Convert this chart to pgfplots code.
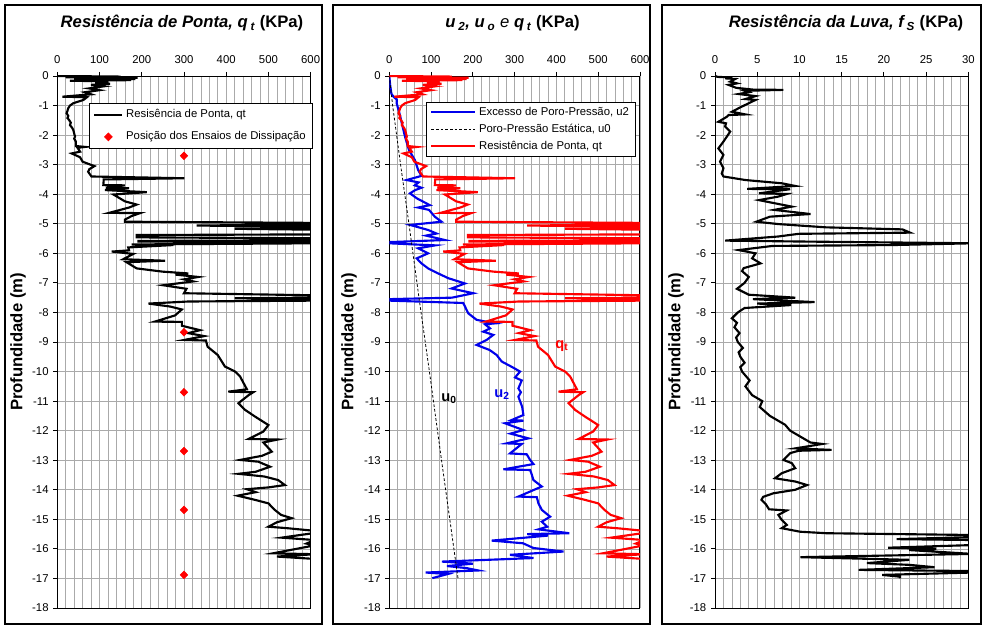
\documentclass[border=0pt]{standalone}
\usepackage{fontspec}
\setmainfont{Liberation Sans}
\usepackage{pgfplots}
\pgfplotsset{compat=1.18}
\usepackage{pgfplotstable}

\definecolor{gridc}{RGB}{170,170,170}
\definecolor{myblue}{RGB}{0,0,235}
\definecolor{myred}{RGB}{255,0,0}

% Resistencia de ponta qt (kPa) vs profundidade (m)
\pgfplotstableread{
x y
0 0
150 -0.02
20 -0.04
190 -0.06
40 -0.08
185 -0.10
60 -0.12
175 -0.14
30 -0.16
120 -0.18
90 -0.22
125 -0.26
80 -0.30
110 -0.35
75 -0.42
100 -0.48
65 -0.55
80 -0.62
12 -0.70
70 -0.72
62 -0.81
38 -0.92
30 -1.00
26 -1.09
24 -1.18
22 -1.26
26 -1.35
24 -1.42
28 -1.49
32 -1.58
30 -1.66
35 -1.75
38 -1.83
40 -1.95
42 -2.05
40 -2.12
44 -2.22
44 -2.37
66 -2.40
48 -2.43
54 -2.56
34 -2.62
54 -2.75
60 -2.90
88 -3.05
76 -3.15
73 -3.24
81 -3.40
301 -3.46
110 -3.50
109 -3.69
160 -3.70
115 -3.78
170 -3.80
113 -3.86
212 -3.93
133 -4.01
160 -4.24
188 -4.35
170 -4.45
123 -4.63
196 -4.64
176 -4.74
160 -4.86
160 -4.93
610 -4.97
610 -5.02
330 -5.06
610 -5.10
610 -5.15
420 -5.17
610 -5.20
610 -5.36
188 -5.38
188 -5.46
610 -5.49
610 -5.56
192 -5.58
192 -5.60
610 -5.63
610 -5.66
176 -5.70
275 -5.72
168 -5.80
170 -5.90
129 -5.94
180 -6.02
156 -6.20
255 -6.25
164 -6.30
188 -6.51
250 -6.62
310 -6.68
280 -6.72
334 -6.80
300 -6.88
322 -6.95
251 -7.08
306 -7.20
300 -7.35
610 -7.42
610 -7.50
420 -7.52
610 -7.56
610 -7.60
310 -7.63
216 -7.70
267 -7.80
295 -7.90
279 -8.10
231 -8.31
295 -8.32
295 -8.45
338 -8.60
310 -8.70
348 -8.80
301 -8.93
352 -8.95
356 -9.16
380 -9.44
397 -9.83
421 -10.00
433 -10.17
449 -10.60
405 -10.68
464 -10.70
453 -10.80
429 -11.07
445 -11.30
468 -11.52
500 -11.81
488 -12.03
453 -12.28
522 -12.30
488 -12.40
508 -12.71
485 -12.85
433 -12.99
476 -13.05
504 -13.22
470 -13.39
429 -13.46
490 -13.55
523 -13.67
539 -13.84
500 -13.92
449 -13.98
470 -14.08
427 -14.20
468 -14.34
500 -14.46
515 -14.68
530 -14.85
555 -14.96
520 -15.10
500 -15.25
545 -15.30
610 -15.39
610 -15.46
531 -15.62
610 -15.70
590 -15.82
610 -15.88
511 -16.15
610 -16.18
520 -16.26
610 -16.34
}\qtdata

% Excesso de poro-pressao u2 (kPa)
\pgfplotstableread{
x y
0 0
2 -0.30
5 -0.60
10 -0.70
18 -0.80
17.6 -0.92
25 -1.30
30 -1.60
37.6 -2.05
47 -2.50
61 -2.84
69 -3.18
77 -3.38
41.5 -3.52
70 -3.60
61 -3.70
77 -3.78
62 -3.86
49.5 -3.97
66 -4.14
97 -4.37
69 -4.45
95 -4.53
109 -4.76
125 -4.93
50 -5.04
93 -5.21
113 -5.33
88 -5.40
133 -5.55
0 -5.62
0 -5.66
60 -5.70
110 -5.73
69 -5.83
93 -6.00
65.5 -6.17
77 -6.34
93 -6.51
117 -6.68
141 -6.84
181 -7.02
149 -7.19
201 -7.35
150 -7.50
0 -7.55
0 -7.60
177 -7.68
189 -8.03
209 -8.25
253 -8.37
229 -8.40
241 -8.54
225 -8.65
249 -8.76
233 -8.93
209 -9.10
240 -9.27
257 -9.44
269 -9.66
293 -9.84
313 -10.00
301 -10.20
317 -10.30
309 -10.57
315 -10.70
309 -10.85
318 -11.19
321 -11.47
293 -11.64
321 -11.66
277 -11.75
321 -11.98
290 -12.10
333 -12.26
281 -12.43
317 -12.45
289 -12.77
329 -12.80
337 -12.99
345 -13.13
273 -13.31
337 -13.33
340 -13.44
345 -13.67
365 -13.89
337 -14.06
309 -14.23
353 -14.25
357 -14.46
365 -14.68
385 -14.91
365 -15.08
378 -15.25
357 -15.34
431 -15.47
330 -15.50
380 -15.55
245 -15.72
320 -15.81
345 -15.97
417 -16.09
289 -16.20
345 -16.31
126 -16.43
200 -16.50
138 -16.58
185 -16.65
213 -16.73
87 -16.80
140 -16.85
103 -16.99
}\utwodata

% Poro-pressao estatica u0 (kPa)
\pgfplotstableread{
x y
0 0
8 -1
27 -3
47 -5
72 -7.6
96 -10
125 -13
165 -17.05
}\uzerodata

% Resistencia da luva fs (kPa)
\pgfplotstableread{
x y
0 0
0.3 -0.03
2.0 -0.05
1.2 -0.08
2.4 -0.10
1.8 -0.19
2.6 -0.25
1.6 -0.30
2.5 -0.40
4.5 -0.46
8.1 -0.47
3.5 -0.50
4.0 -0.55
2.8 -0.61
4.8 -0.68
3.6 -0.78
4.8 -0.81
4.0 -0.92
2.8 -1.09
2.0 -1.21
3.6 -1.30
1.6 -1.32
1.4 -1.38
0.4 -1.55
1.3 -1.60
1.2 -1.71
1.8 -1.88
1.4 -2.05
1.0 -2.22
0.4 -2.45
1.0 -2.67
0.6 -2.90
1.0 -3.12
0.8 -3.30
1.0 -3.40
3.6 -3.52
7.9 -3.63
9.5 -3.72
3.8 -3.82
8.9 -3.83
5.2 -3.97
8.5 -3.99
7.5 -4.08
5.2 -4.20
9.1 -4.42
7.0 -4.53
11.3 -4.67
6.5 -4.76
4.9 -4.93
7.5 -5.01
13.1 -5.12
22.2 -5.19
23.1 -5.30
9.9 -5.34
7.5 -5.43
1.2 -5.57
10 -5.60
30.5 -5.66
21 -5.72
6.8 -5.75
2.8 -5.89
4.8 -6.00
4.4 -6.17
5.4 -6.34
3.4 -6.50
3.2 -6.60
4.0 -6.80
3.5 -7.00
2.6 -7.20
4.0 -7.40
9.5 -7.50
4.5 -7.55
11.8 -7.65
5.0 -7.70
9.0 -7.75
3.5 -7.85
2.7 -8.00
2.0 -8.20
2.6 -8.35
2.3 -8.50
2.9 -8.70
2.5 -8.85
2.7 -9.00
3.3 -9.20
2.8 -9.35
3.0 -9.50
3.5 -9.70
3.0 -9.85
3.2 -10.00
4.1 -10.30
3.6 -10.50
4.4 -10.80
5.6 -11.00
5.3 -11.20
6.5 -11.50
8.3 -11.80
8.9 -12.00
10.1 -12.20
11.3 -12.40
12.7 -12.45
9.5 -12.60
13.8 -12.65
9.9 -12.68
8.9 -12.76
8.1 -12.99
9.1 -13.10
9.5 -13.27
7.9 -13.44
7.1 -13.61
9.5 -13.72
10.9 -13.84
9.5 -14.00
6.9 -14.12
5.7 -14.24
5.5 -14.34
6.0 -14.48
6.4 -14.66
8.5 -14.70
7.5 -14.85
7.9 -15.02
8.5 -15.19
7.9 -15.30
10.1 -15.42
13.2 -15.47
30.5 -15.53
30.5 -15.60
21.5 -15.67
30.5 -15.70
30.5 -15.87
20.5 -15.96
26.2 -16.00
23 -16.04
30.5 -16.17
10.1 -16.28
23 -16.37
18 -16.48
23 -16.54
26 -16.62
17.0 -16.71
30.5 -16.75
30.5 -16.80
19.8 -16.88
21.9 -16.94
21.9 -17.00
}\fsdata

\pgfplotsset{
  myaxis/.style={
    scale only axis,
    height=399pt,
    ymin=-18, ymax=0,
    ytick={-18,-17,...,0},
    axis line style={black, line width=0.7pt},
    tick style={black, line width=0.6pt},
    major tick length=3pt,
    minor tick length=0pt,
    tick align=outside,
    xtick pos=upper,
    xticklabel pos=upper,
    ytick pos=left,
    grid style={gridc, line width=0.5pt},
    minor grid style={gridc, line width=0.5pt},
    xmajorgrids, xminorgrids, ymajorgrids,
    /pgf/number format/assume math mode=true,
    ticklabel style={font=\fontsize{8.5}{10}\selectfont},
    xticklabel style={yshift=3pt},
    legend cell align=left,
  },
}

\begin{document}
\begin{tikzpicture}
\path[use as bounding box] (0pt,0pt) rectangle (738.75pt,-472.5pt);
\fill[white] (0pt,0pt) rectangle (738.75pt,-472.5pt);

% ---------- Panel 1 ----------
\begin{axis}[myaxis,
  at={(42.975pt,-456pt)}, anchor=south west, width=190pt,
  xmin=0, xmax=600, xtick={0,100,...,600}, minor x tick num=4,
  legend image code/.code={\draw[mark repeat=2,mark phase=2,#1] plot coordinates {(0pt,0pt) (10.5pt,0pt) (21pt,0pt)};},
  legend style={at={(0.125,0.949)}, anchor=north west, draw=black, line width=0.6pt,
    fill=white, font=\fontsize{8.5}{10}\selectfont, row sep=5pt, inner xsep=3pt, inner ysep=2.5pt},
]
\addplot[black, line width=1.6pt] table {\qtdata};
\addlegendentry{Resisência de Ponta, qt}
\addplot[only marks, mark=diamond*, mark size=2.9pt, color=red, mark options={fill=red, xscale=1.3}] coordinates {
(300,-2.70) (300,-8.67) (300,-10.70) (300,-12.69) (300,-14.68) (300,-16.88)};
\addlegendentry{Posição dos Ensaios de Dissipação}
\end{axis}

% ---------- Panel 2 ----------
\begin{axis}[myaxis,
  at={(291.975pt,-456pt)}, anchor=south west, width=188pt,
  xmin=0, xmax=600, xtick={0,100,...,600}, minor x tick num=4,
  legend image code/.code={\draw[mark repeat=2,mark phase=2,#1] plot coordinates {(0pt,0pt) (16.5pt,0pt) (33pt,0pt)};},
  legend style={at={(0.146,0.951)}, anchor=north west, draw=black, line width=0.6pt,
    fill=white, font=\fontsize{8.5}{10}\selectfont, row sep=1pt, inner xsep=3pt, inner ysep=1.5pt},
]
\addplot[myblue, line width=1.6pt] table {\utwodata};
\addlegendentry{Excesso de Poro-Pressão, u2}
\addplot[black, line width=0.6pt, dash pattern=on 2pt off 1.5pt] table {\uzerodata};
\addlegendentry{Poro-Pressão Estática, u0}
\addplot[myred, line width=1.6pt] table {\qtdata};
\addlegendentry{Resistência de Ponta, qt}
\node[font=\bfseries\fontsize{11}{13}\selectfont, text=myred] at (axis cs:413,-9.13) {q\textsubscript{t}};
\node[font=\bfseries\fontsize{11}{13}\selectfont, text=myblue] at (axis cs:270,-10.79) {u\textsubscript{2}};
\node[font=\bfseries\fontsize{11}{13}\selectfont, text=black] at (axis cs:143,-10.93) {u\textsubscript{0}};
\end{axis}

% ---------- Panel 3 ----------
\begin{axis}[myaxis,
  at={(536.25pt,-456pt)}, anchor=south west, width=190pt,
  xmin=0, xmax=30, xtick={0,5,...,30}, minor x tick num=4,
]
\addplot[black, line width=1.6pt] table {\fsdata};
\end{axis}

% panel frames
\draw[black, line width=1pt] (3.75pt,-3.75pt) rectangle (241.5pt,-468pt);
\draw[black, line width=1pt] (249.75pt,-3.75pt) rectangle (487.5pt,-468pt);
\draw[black, line width=1pt] (496.5pt,-3.75pt) rectangle (735.75pt,-468pt);

% titles
\node[font=\fontsize{12.5}{15}\selectfont] at (136.5pt,-17.5pt)
  {\bfseries\itshape Resistência de Ponta, q\,\textsubscript{t} \upshape(KPa)};
\node[font=\fontsize{12.5}{15}\selectfont] at (384.4pt,-17.5pt)
  {\bfseries\itshape u\,\textsubscript{2}, u\,\textsubscript{o} \mdseries e \bfseries q\,\textsubscript{t} \upshape(KPa)};
\node[font=\fontsize{12.5}{15}\selectfont] at (634.5pt,-17.5pt)
  {\bfseries\itshape Resistência da Luva, f\,\textsubscript{S} \upshape(KPa)};

% y labels
\node[rotate=90, font=\bfseries\fontsize{12.5}{15}\selectfont] at (13.5pt,-256.5pt) {Profundidade (m)};
\node[rotate=90, font=\bfseries\fontsize{12.5}{15}\selectfont] at (261.75pt,-256.5pt) {Profundidade (m)};
\node[rotate=90, font=\bfseries\fontsize{12.5}{15}\selectfont] at (507pt,-256.5pt) {Profundidade (m)};
\end{tikzpicture}
\end{document}
